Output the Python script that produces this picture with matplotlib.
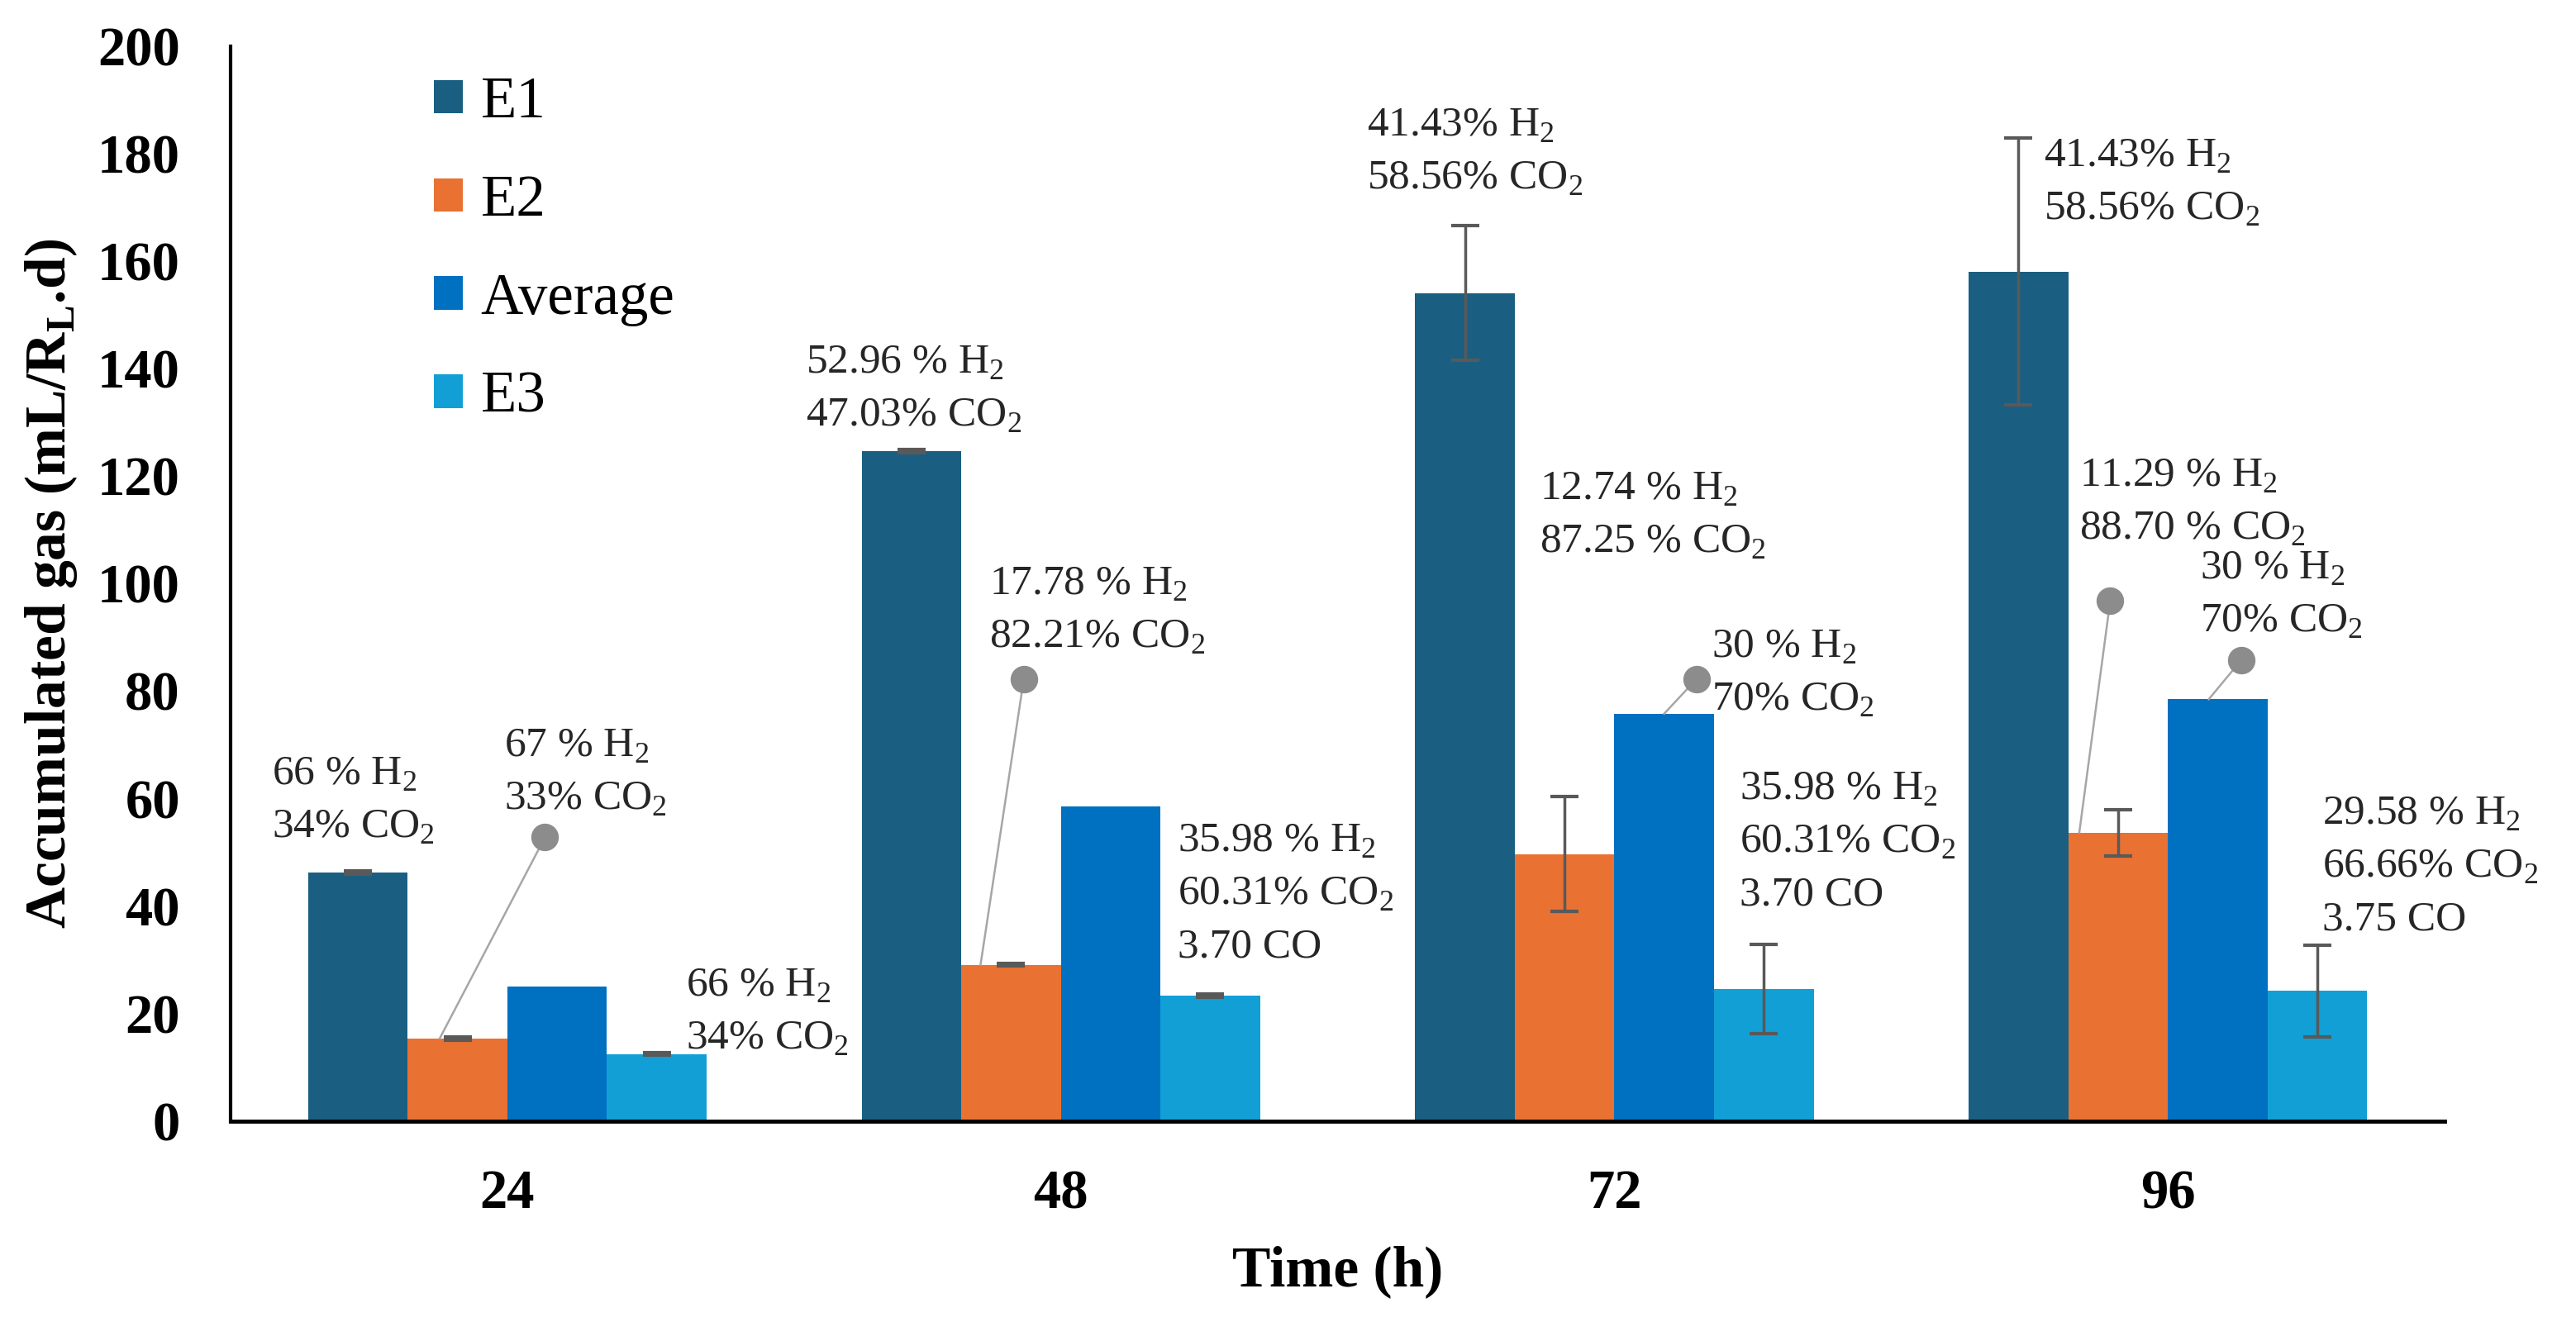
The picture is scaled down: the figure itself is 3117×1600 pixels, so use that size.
import numpy as np
import matplotlib
matplotlib.use("Agg")
from matplotlib import pyplot as plt

plt.rcParams['font.family'] = ['Liberation Serif', 'DejaVu Serif']
plt.rcParams['mathtext.fontset'] = 'custom'
plt.rcParams['mathtext.rm'] = 'Liberation Serif'
plt.rcParams['mathtext.bf'] = 'Liberation Serif:bold'

# data
times = ['24', '48', '72', '96']
series = ['E1', 'E2', 'Average', 'E3']
e1 = [46.3, 124.6, 154.1, 158.1]
e1_err = [0.3, 0.3, 12.6, 24.9]
e2 = [15.4, 29.1, 49.7, 53.7]
e2_err = [0.3, 0.3, 10.7, 4.3]
avg = [25.1, 58.6, 75.8, 78.5]
e3 = [12.5, 23.3, 24.6, 24.2]
e3_err = [0.3, 0.3, 8.3, 8.5]

colors = ['#1A5F82', '#E97132', '#0070C0', '#129FD6']

H2 = 'H$_\\mathregular{2}$'
CO2 = 'CO$_\\mathregular{2}$'

# (x, y of first line, lines)
labels = [
    (-0.426, 64.5, ['66 % ' + H2, '34% ' + CO2]),
    (-0.006, 69.7, ['67 % ' + H2, '33% ' + CO2]),
    (0.322, 25.1, ['66 % ' + H2, '34% ' + CO2]),
    (0.539, 141.1, ['52.96 % ' + H2, '47.03% ' + CO2]),
    (0.871, 99.8, ['17.78 % ' + H2, '82.21% ' + CO2]),
    (1.211, 52.0, ['35.98 % ' + H2, '60.31% ' + CO2, '3.70 CO']),
    (1.553, 185.2, ['41.43% ' + H2, '58.56% ' + CO2]),
    (1.865, 117.5, ['12.74 % ' + H2, '87.25 % ' + CO2]),
    (2.175, 88.1, ['30 % ' + H2, '70% ' + CO2]),
    (2.227, 61.7, ['35.98 % ' + H2, '60.31% ' + CO2, '3.70 CO']),
    (2.776, 179.5, ['41.43% ' + H2, '58.56% ' + CO2]),
    (2.840, 120.0, ['11.29 % ' + H2, '88.70 % ' + CO2]),
    (3.058, 102.8, ['30 % ' + H2, '70% ' + CO2]),
    (3.279, 57.1, ['29.58 % ' + H2, '66.66% ' + CO2, '3.75 CO']),
]

# leader lines: (series, time index, x shift, dot x, dot y)
leaders = [
    (1, 0, -0.032, 0.068, 52.8),
    (1, 1, -0.055, 0.933, 82.2),
    (2, 2, 0.0, 2.148, 82.2),
    (1, 3, -0.07, 2.896, 96.9),
    (2, 3, -0.016, 3.132, 85.7),
]

fig = plt.figure(figsize=(31.17, 16), dpi=100)
ax = fig.add_axes([0.0895, 0.152, 0.8595, 0.813])

x = np.arange(len(times))
width = 0.18
offsets = [-1.5 * width, -0.5 * width, 0.5 * width, 1.5 * width]
values = [e1, e2, avg, e3]
errors = [e1_err, e2_err, None, e3_err]

bars = []
for i in range(4):
    b = ax.bar(x + offsets[i], values[i], width, color=colors[i],
               label=series[i], zorder=2)
    bars.append(b)
    if errors[i] is not None:
        ax.errorbar(x + offsets[i], values[i], yerr=errors[i], fmt='none',
                    ecolor='#595959', elinewidth=2.5, capsize=12,
                    capthick=3, zorder=4)

for s, t, dx, px, py in leaders:
    bx = x[t] + offsets[s] + dx
    by = values[s][t]
    ax.plot([bx, px], [by, py], color='#A6A6A6', lw=1.8, zorder=3)
    ax.plot(px, py, 'o', color='#8C8C8C', markersize=23, zorder=3)

for lx, ly, lines in labels:
    for k, line in enumerate(lines):
        ax.annotate(line, (lx, ly), xytext=(0, -46 * k),
                    textcoords='offset points', fontsize=37,
                    ha='left', va='center', color='#262626', zorder=5)

ax.set_xlim(-0.5, 3.5)
ax.set_ylim(0, 200)
ax.set_yticks(range(0, 201, 20))
ax.set_xticks(x)
ax.set_xticklabels(times)
ax.tick_params(axis='both', length=0, labelsize=48)
ax.tick_params(axis='y', pad=44)
ax.tick_params(axis='x', pad=42)
for lab in ax.get_xticklabels() + ax.get_yticklabels():
    lab.set_fontweight('bold')

for side in ['top', 'right']:
    ax.spines[side].set_visible(False)
ax.spines['left'].set_linewidth(3)
ax.spines['bottom'].set_linewidth(3.5)

ax.set_xlabel('Time (h)', fontsize=50, fontweight='bold', labelpad=22)
ax.set_ylabel('Accumulated gas (mL/R$_\\mathbf{L}$.d)', fontsize=50,
              fontweight='bold', labelpad=16)

ax.legend(handles=bars, labels=series, loc='upper left',
          bbox_to_anchor=(525 / 3117, 1 - 92 / 1600),
          bbox_transform=fig.transFigure, frameon=False, fontsize=51,
          handlelength=0.5, handleheight=0.5, handletextpad=0.3,
          labelspacing=0.76, borderpad=0, borderaxespad=0)

fig.savefig('out.png', dpi=100)
